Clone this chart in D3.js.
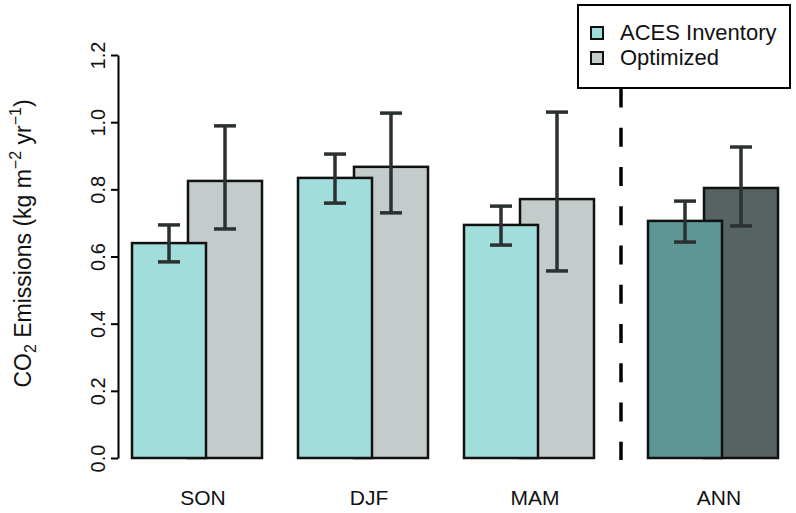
<!DOCTYPE html>
<html><head><meta charset="utf-8">
<script src="https://cdn.jsdelivr.net/npm/d3@7"></script>
<style>body{margin:0;background:#fff}svg{display:block;font-family:"Liberation Sans",Arial,Helvetica,sans-serif}</style>
</head><body>
<script>
const categories = ["SON","DJF","MAM","ANN"];
const acesValues = [0.640, 0.834, 0.694, 0.706];
const acesLower  = [0.584, 0.759, 0.634, 0.643];
const acesUpper  = [0.694, 0.905, 0.750, 0.765];
const optValues  = [0.825, 0.867, 0.771, 0.804];
const optLower   = [0.682, 0.730, 0.557, 0.691];
const optUpper   = [0.989, 1.027, 1.030, 0.926];
const yTicks = [0.0, 0.2, 0.4, 0.6, 0.8, 1.0, 1.2];
const seriesNames = ["ACES Inventory", "Optimized"];

const W = 796, H = 513;
const colAces = "#a0dddb", colOpt = "#c4cccb";
const colAcesAnn = "#5c9695", colOptAnn = "#566362";
const errCol = "#2b3131";

const svg = d3.select("body").append("svg").attr("width", W).attr("height", H);

const y = d3.scaleLinear().domain([0, 1.2]).range([458, 55]);
const xg = d3.scaleLinear().domain([0, 3]).range([132, 630]);
const barW = 74, optOff = 56, annGap = 18;
const gx = i => xg(i) + (i === 3 ? annGap : 0);

// dashed separator
const sepX = (xg(2) + optOff + barW + gx(3)) / 2;
svg.append("line").attr("x1", sepX).attr("x2", sepX)
  .attr("y1", 10).attr("y2", y(0) + 2)
  .attr("stroke", "#000").attr("stroke-width", 3.5)
  .attr("stroke-dasharray", "19,20.25").attr("stroke-linecap", "butt");

const data = categories.map((c, i) => ({c, i,
  a: acesValues[i], al: acesLower[i], au: acesUpper[i],
  o: optValues[i], ol: optLower[i], ou: optUpper[i]}));

// optimized bars (behind)
svg.selectAll("rect.opt").data(data).join("rect").attr("class", "opt")
  .attr("x", d => gx(d.i) + optOff).attr("width", barW)
  .attr("y", d => y(d.o)).attr("height", d => y(0) - y(d.o))
  .attr("fill", d => d.c === "ANN" ? colOptAnn : colOpt)
  .attr("stroke", "#111").attr("stroke-width", 2.5);
// aces bars (front)
svg.selectAll("rect.aces").data(data).join("rect").attr("class", "aces")
  .attr("x", d => gx(d.i)).attr("width", barW)
  .attr("y", d => y(d.a)).attr("height", d => y(0) - y(d.a))
  .attr("fill", d => d.c === "ANN" ? colAcesAnn : colAces)
  .attr("stroke", "#111").attr("stroke-width", 2.5);

// error bars
function errbar(cx, lo, hi) {
  const g = svg.append("g").attr("stroke", errCol).attr("stroke-width", 3.5);
  g.append("line").attr("x1", cx).attr("x2", cx).attr("y1", y(lo)).attr("y2", y(hi));
  g.append("line").attr("x1", cx - 11).attr("x2", cx + 11).attr("y1", y(lo)).attr("y2", y(lo));
  g.append("line").attr("x1", cx - 11).attr("x2", cx + 11).attr("y1", y(hi)).attr("y2", y(hi));
}
data.forEach(d => {
  errbar(gx(d.i) + barW / 2, d.al, d.au);
  errbar(gx(d.i) + optOff + barW / 2, d.ol, d.ou);
});

// y axis
const axX = 118;
const ax = svg.append("g").attr("transform", `translate(${axX},0)`)
  .call(d3.axisLeft(y).tickValues(yTicks).tickFormat(d3.format(".1f")).tickSize(7).tickSizeOuter(0));
ax.select(".domain").attr("stroke", "#000").attr("stroke-width", 2);
ax.selectAll(".tick line").attr("stroke", "#000").attr("stroke-width", 2);
ax.selectAll(".tick text").attr("font-size", 20).attr("fill", "#111")
  .attr("font-family", '"Liberation Sans",Arial,sans-serif')
  .attr("text-anchor", "middle")
  .attr("transform", "translate(-13,0) rotate(-90)").attr("x", 0).attr("y", 0).attr("dy", "0");

// y title
const yt = svg.append("text").attr("transform", `translate(31,${(y(0)+y(1.2))/2 - 13}) rotate(-90)`)
  .attr("text-anchor", "middle").attr("font-size", 23).attr("fill", "#111");
yt.append("tspan").text("CO");
yt.append("tspan").text("2").attr("font-size", 16).attr("dy", 5);
yt.append("tspan").text(" Emissions (kg m").attr("dy", -5);
yt.append("tspan").text("\u22122").attr("font-size", 16).attr("dy", -10);
yt.append("tspan").text(" yr").attr("dy", 10);
yt.append("tspan").text("\u22121").attr("font-size", 16).attr("dy", -10);
yt.append("tspan").text(")").attr("dy", 10);

// x labels
svg.selectAll("text.xl").data(data).join("text").attr("class", "xl")
  .attr("x", d => gx(d.i) + barW - 3).attr("y", 505)
  .attr("text-anchor", "middle").attr("font-size", 21).attr("fill", "#111")
  .text(d => d.c);

// legend
const lg = svg.append("g");
lg.append("rect").attr("x", 578).attr("y", 5).attr("width", 212).attr("height", 83)
  .attr("fill", "#fff").attr("stroke", "#000").attr("stroke-width", 2);
seriesNames.forEach((n, k) => {
  const yy = 33 + k * 25;
  lg.append("rect").attr("x", 591).attr("y", yy - 6).attr("width", 12).attr("height", 12)
    .attr("fill", k === 0 ? colAces : colOpt).attr("stroke", "#111").attr("stroke-width", 2);
  lg.append("text").attr("x", 620).attr("y", yy + 7).attr("font-size", 22).attr("fill", "#111").text(n);
});
</script>
</body></html>
